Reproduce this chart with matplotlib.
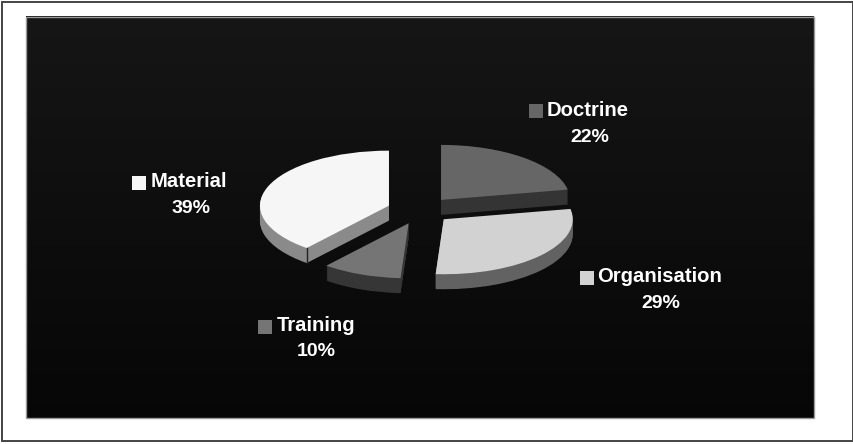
import numpy as np
import matplotlib
matplotlib.use("Agg")
import matplotlib.pyplot as plt
from matplotlib.patches import Rectangle

# data
categories = ["Doctrine", "Organisation", "Training", "Material"]
shares = [22, 29, 10, 39]
pct_labels = ["22%", "29%", "10%", "39%"]

top_colors = ["#666666", "#d2d2d2", "#757575", "#f6f6f6"]
side_colors = ["#343434", "#626262", "#363636", "#8a8a8a"]
explode = [0.25, 0.24, 0.25, 0.26]

# label anchors in pixels: square left, square top, name left, name mid y, pct centre x, pct mid y
label_pos = [
    (529, 104, 547, 110, 590, 137),
    (580, 271, 597, 276, 661, 303),
    (258, 320, 277, 325, 316, 351),
    (132, 176, 151, 181, 191, 208),
]

W, H = 854, 444
fig = plt.figure(figsize=(W / 100, H / 100), dpi=100, facecolor="white")

# page layer in pixel coordinates
bg = fig.add_axes([0, 0, 1, 1])
bg.set_xlim(0, W)
bg.set_ylim(H, 0)
bg.axis("off")

bg.add_patch(Rectangle((2, 2), W - 2.5, 438.5, fill=False, ec="#444444", lw=1.4))
grad = np.linspace(0.085, 0.025, 100).reshape(-1, 1)
bg.imshow(grad, extent=(26, 814, 418, 17), cmap="gray", vmin=0, vmax=1,
          aspect="auto", zorder=1)
bg.set_xlim(0, W)
bg.set_ylim(H, 0)
bg.add_patch(Rectangle((26, 17), 788, 401, fill=False, ec="#999999", lw=1.0, zorder=2))

# pie: one data unit is 129 px wide and 55 px tall
cx, cy = 420.5, 210.5
rx, ry = 129, 55
depth = 15 / ry
ax = fig.add_axes([0, 0, 1, 1], zorder=3)
ax.patch.set_alpha(0)

for d in np.linspace(depth, 0, 16)[:-1]:
    ax.pie(shares, explode=explode, colors=side_colors, startangle=90, counterclock=False,
           center=(0, -d), wedgeprops=dict(lw=0))
ax.pie(shares, explode=explode, colors=top_colors, startangle=90, counterclock=False,
       wedgeprops=dict(lw=0))

# dark corner line where the Material rim meets its cut face
start = np.radians(360 * sum(shares[:3]) / sum(shares))
mid = start + np.radians(360 * shares[3] / sum(shares)) / 2
corner_x = explode[3] * np.sin(mid) + np.sin(start)
corner_y = explode[3] * np.cos(mid) + np.cos(start)
ax.plot([corner_x, corner_x], [corner_y, corner_y - depth], color="#222222", lw=1.0)

ax.set_aspect("auto")
ax.set_xlim(-cx / rx, (W - cx) / rx)
ax.set_ylim(-(H - cy) / ry, cy / ry)
ax.axis("off")

# labels
for name, pct, col, pos in zip(categories, pct_labels, top_colors, label_pos):
    sx, sy, nx, ny, px, py = pos
    bg.add_patch(Rectangle((sx, sy), 14, 14, fc=col, ec="none", zorder=4))
    bg.text(nx, ny, name, color="white", fontsize=14.6, fontweight="bold",
            family="Liberation Sans", ha="left", va="center", zorder=5)
    bg.text(px, py, pct, color="white", fontsize=14, fontweight="bold",
            family="Liberation Sans", ha="center", va="center", zorder=5)

fig.savefig("out.png", dpi=100)
